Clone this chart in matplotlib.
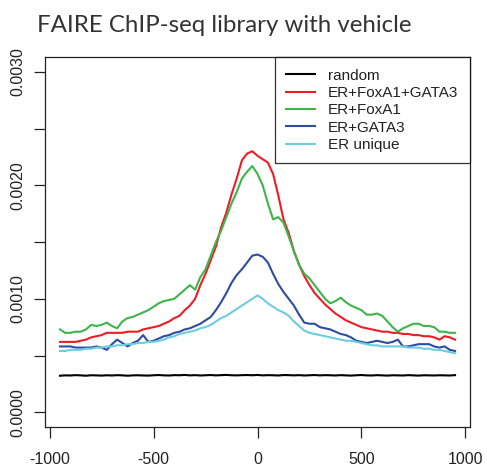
import numpy as np
import matplotlib
matplotlib.use("Agg")
import matplotlib.pyplot as plt

# distance from peak centre (bp)
pos = np.arange(-950, 951, 25)

# mean signal, in units of 1e-4
random_sig = [3.22, 3.25, 3.24, 3.27, 3.25, 3.22, 3.26, 3.25, 3.23, 3.26, 3.24, 3.27, 3.25,
              3.22, 3.25, 3.26, 3.24, 3.23, 3.26, 3.28, 3.25, 3.24, 3.27, 3.26, 3.29, 3.25,
              3.27, 3.24, 3.26, 3.28, 3.25, 3.27, 3.29, 3.26, 3.25, 3.27, 3.28, 3.26, 3.29,
              3.25, 3.27, 3.26, 3.24, 3.28, 3.27, 3.25, 3.27, 3.24, 3.26, 3.28, 3.25, 3.27,
              3.26, 3.24, 3.27, 3.25, 3.23, 3.26, 3.28, 3.25, 3.24, 3.27, 3.25, 3.23, 3.26,
              3.25, 3.24, 3.27, 3.25, 3.23, 3.26, 3.25, 3.24, 3.26, 3.25, 3.24, 3.27]
er_foxa1_gata3 = [6.2, 6.2, 6.2, 6.2, 6.3, 6.4, 6.6, 6.7, 6.8, 7.0, 7.0, 7.0, 7.0, 7.1, 7.1,
                  7.1, 7.3, 7.4, 7.5, 7.6, 7.8, 8.0, 8.3, 8.5, 9.0, 9.4, 10.0, 11.2, 12.2,
                  13.4, 14.6, 16.3, 17.6, 19.2, 20.6, 22.2, 22.8, 23.0, 22.6, 22.3, 22.0,
                  21.0, 19.1, 17.0, 15.8, 14.2, 13.0, 12.0, 11.2, 10.5, 10.0, 9.5, 9.1, 8.7,
                  8.4, 8.1, 7.9, 7.7, 7.5, 7.4, 7.3, 7.2, 7.1, 7.1, 7.0, 7.0, 6.9, 6.9, 6.8,
                  6.8, 6.7, 6.7, 6.6, 6.4, 6.7, 6.6, 6.4]
er_foxa1 = [7.3, 7.0, 7.0, 7.1, 7.1, 7.3, 7.7, 7.6, 7.7, 7.9, 7.6, 7.4, 8.0, 8.3, 8.4, 8.6,
            8.8, 9.0, 9.3, 9.6, 9.8, 9.9, 10.0, 10.4, 10.8, 11.2, 10.8, 11.9, 12.6, 13.8,
            15.0, 16.0, 17.2, 18.4, 19.4, 20.6, 21.2, 21.7, 21.0, 20.0, 18.4, 17.0, 17.2,
            16.7, 15.5, 14.2, 13.0, 12.2, 11.8, 11.2, 10.6, 10.0, 9.6, 9.8, 10.1, 9.7, 9.4,
            9.2, 9.0, 8.6, 8.6, 8.7, 8.5, 8.0, 7.5, 7.1, 7.4, 7.6, 7.8, 7.8, 7.6, 7.6, 7.5,
            7.1, 7.1, 7.0, 7.0]
er_gata3 = [5.8, 5.8, 5.8, 5.7, 5.7, 5.7, 5.7, 5.8, 5.7, 5.5, 6.0, 6.4, 6.1, 5.8, 6.1, 6.3,
            6.8, 6.2, 6.3, 6.5, 6.7, 6.8, 7.0, 7.1, 7.3, 7.4, 7.6, 7.8, 8.1, 8.4, 9.0, 9.7,
            10.5, 11.4, 12.1, 12.6, 13.2, 13.8, 13.9, 13.7, 13.2, 12.2, 11.3, 10.6, 10.0,
            9.4, 8.6, 7.9, 7.8, 7.8, 7.5, 7.4, 7.3, 7.1, 6.9, 6.8, 6.6, 6.3, 6.2, 6.1, 6.2,
            6.3, 6.2, 6.1, 6.2, 6.4, 5.8, 5.8, 5.9, 6.0, 6.0, 6.0, 5.8, 5.7, 5.8, 5.5, 5.4]
er_unique = [5.4, 5.4, 5.5, 5.5, 5.5, 5.6, 5.6, 5.7, 5.7, 5.8, 5.8, 5.9, 5.9, 6.0, 6.0, 6.1,
             6.1, 6.2, 6.2, 6.3, 6.4, 6.6, 6.7, 6.9, 7.0, 7.1, 7.2, 7.4, 7.5, 7.7, 8.0, 8.3,
             8.5, 8.8, 9.1, 9.4, 9.7, 10.0, 10.3, 10.0, 9.6, 9.3, 9.0, 8.8, 8.5, 8.0, 7.6,
             7.2, 7.0, 6.9, 6.8, 6.7, 6.6, 6.5, 6.4, 6.3, 6.3, 6.2, 6.1, 6.0, 5.9, 5.9, 5.8,
             5.8, 5.8, 5.8, 5.8, 5.7, 5.7, 5.7, 5.6, 5.6, 5.5, 5.5, 5.4, 5.3, 5.2]

series = [
    ("random", random_sig, "black"),
    ("ER+FoxA1+GATA3", er_foxa1_gata3, "#ee1d25"),
    ("ER+FoxA1", er_foxa1, "#3db54a"),
    ("ER+GATA3", er_gata3, "#2c4da0"),
    ("ER unique", er_unique, "#6dcde0"),
]

yticks = [0, 0.0005, 0.001, 0.0015, 0.002, 0.0025, 0.003]
ytick_labels = ["0.0000", "", "0.0010", "", "0.0020", "", "0.0030"]
xticks = [-1000, -500, 0, 500, 1000]

plt.rcParams["font.family"] = ["Liberation Sans", "DejaVu Sans"]

fig = plt.figure(figsize=(4.87, 4.68), dpi=100)
ax = fig.add_axes([0.0924, 0.0876, 0.8727, 0.7904])

for name, vals, col in series:
    ax.plot(pos, np.array(vals) * 1e-4, color=col, lw=1.5, label=name)

ax.set_xlim(-1022, 1022)
ax.set_ylim(-0.00013, 0.00313)
ax.set_xticks(xticks)
ax.set_xticklabels([str(t) for t in xticks], fontsize=11.5, color="#222222")
ax.set_yticks(yticks)
ax.set_yticklabels(ytick_labels, fontsize=11.5, color="#222222", rotation=90, va="center")
ax.tick_params(axis="both", length=8, width=0.9, color="#222222")
ax.tick_params(axis="y", pad=6)
ax.tick_params(axis="x", pad=10)
for sp in ax.spines.values():
    sp.set_linewidth(0.9)
    sp.set_color("#222222")

leg = ax.legend(loc="upper right", bbox_to_anchor=(1, 1), borderaxespad=0,
                fontsize=11, frameon=True, fancybox=False, handlelength=1.9,
                handletextpad=0.85, labelspacing=0.22, borderpad=0.75)
leg.get_frame().set_edgecolor("black")
leg.get_frame().set_linewidth(0.9)
for t in leg.get_texts():
    t.set_color("#222222")

fig.text(37 / 487, 1 - 32 / 468, "FAIRE ChIP-seq library with vehicle",
         family=["Lato", "DejaVu Sans"], fontsize=17.3, color="#333333", va="baseline")

fig.savefig("out.png", dpi=100)
